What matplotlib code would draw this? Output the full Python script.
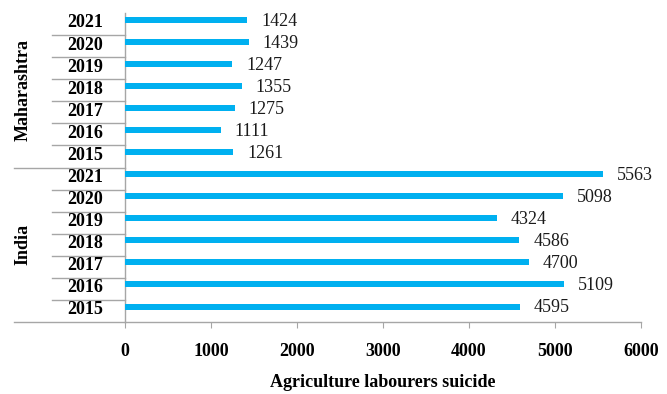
import numpy as np
import matplotlib
matplotlib.use("Agg")
import matplotlib.pyplot as plt

years = ["2015", "2016", "2017", "2018", "2019", "2020", "2021"]
groups = ["India", "Maharashtra"]
india = [4595, 5109, 4700, 4586, 4324, 5098, 5563]
maharashtra = [1261, 1111, 1275, 1355, 1247, 1439, 1424]
x_ticks = [0, 1000, 2000, 3000, 4000, 5000, 6000]

plt.rcParams['font.family'] = ['Liberation Serif', 'DejaVu Serif']

bar_color = "#00B0F0"
axis_color = "#A6A6A6"

values = india + maharashtra
labels = years + years
pos = np.arange(len(values))

fig = plt.figure(figsize=(6.67, 3.94), dpi=100)
ax = fig.add_axes([125 / 667, 72 / 394, 516 / 667, 309 / 394])

# bars sit a little above the centre of each category band
bar_pos = pos + 0.2
ax.barh(bar_pos, values, height=0.27, color=bar_color, zorder=3)

for y, v in zip(bar_pos, values):
    ax.annotate(str(v), (v, y), xytext=(10, -1), textcoords="offset points",
                va="center", ha="left", fontsize=13, color="#1a1a1a")

ax.set_xlim(0, 6000)
ax.set_ylim(-0.5, len(values) - 0.5)
ax.set_xticks(x_ticks)
ax.set_xticklabels([str(t) for t in x_ticks], fontsize=13, fontweight="bold")
ax.tick_params(axis="x", length=4, color=axis_color, pad=11)
ax.set_yticks([])
ax.set_xlabel("Agriculture labourers suicide", fontsize=13, fontweight="bold",
              labelpad=10)

for side in ["top", "right"]:
    ax.spines[side].set_visible(False)
for side in ["left", "bottom"]:
    ax.spines[side].set_color(axis_color)
    ax.spines[side].set_linewidth(1.0)

# year labels and the multi-level category separators
trans = ax.get_yaxis_transform()
for p, lab in zip(pos, labels):
    ax.text(-0.078, p + 0.05, lab, transform=trans, ha="center", va="center",
            fontsize=13, fontweight="bold")

n = len(years)
for b in np.arange(len(values) + 1) - 0.5:
    if b == len(values) - 0.5:
        continue
    x0 = -0.215 if (b + 0.5) % n == 0 else -0.1415
    ax.plot([x0, 0], [b, b], transform=trans, color=axis_color, lw=1.0,
            clip_on=False)

for i, g in enumerate(groups):
    ax.text(-0.197, i * n + (n - 1) / 2, g, transform=trans, rotation=90,
            ha="center", va="center", fontsize=13, fontweight="bold")

fig.savefig("out.png", dpi=100)
